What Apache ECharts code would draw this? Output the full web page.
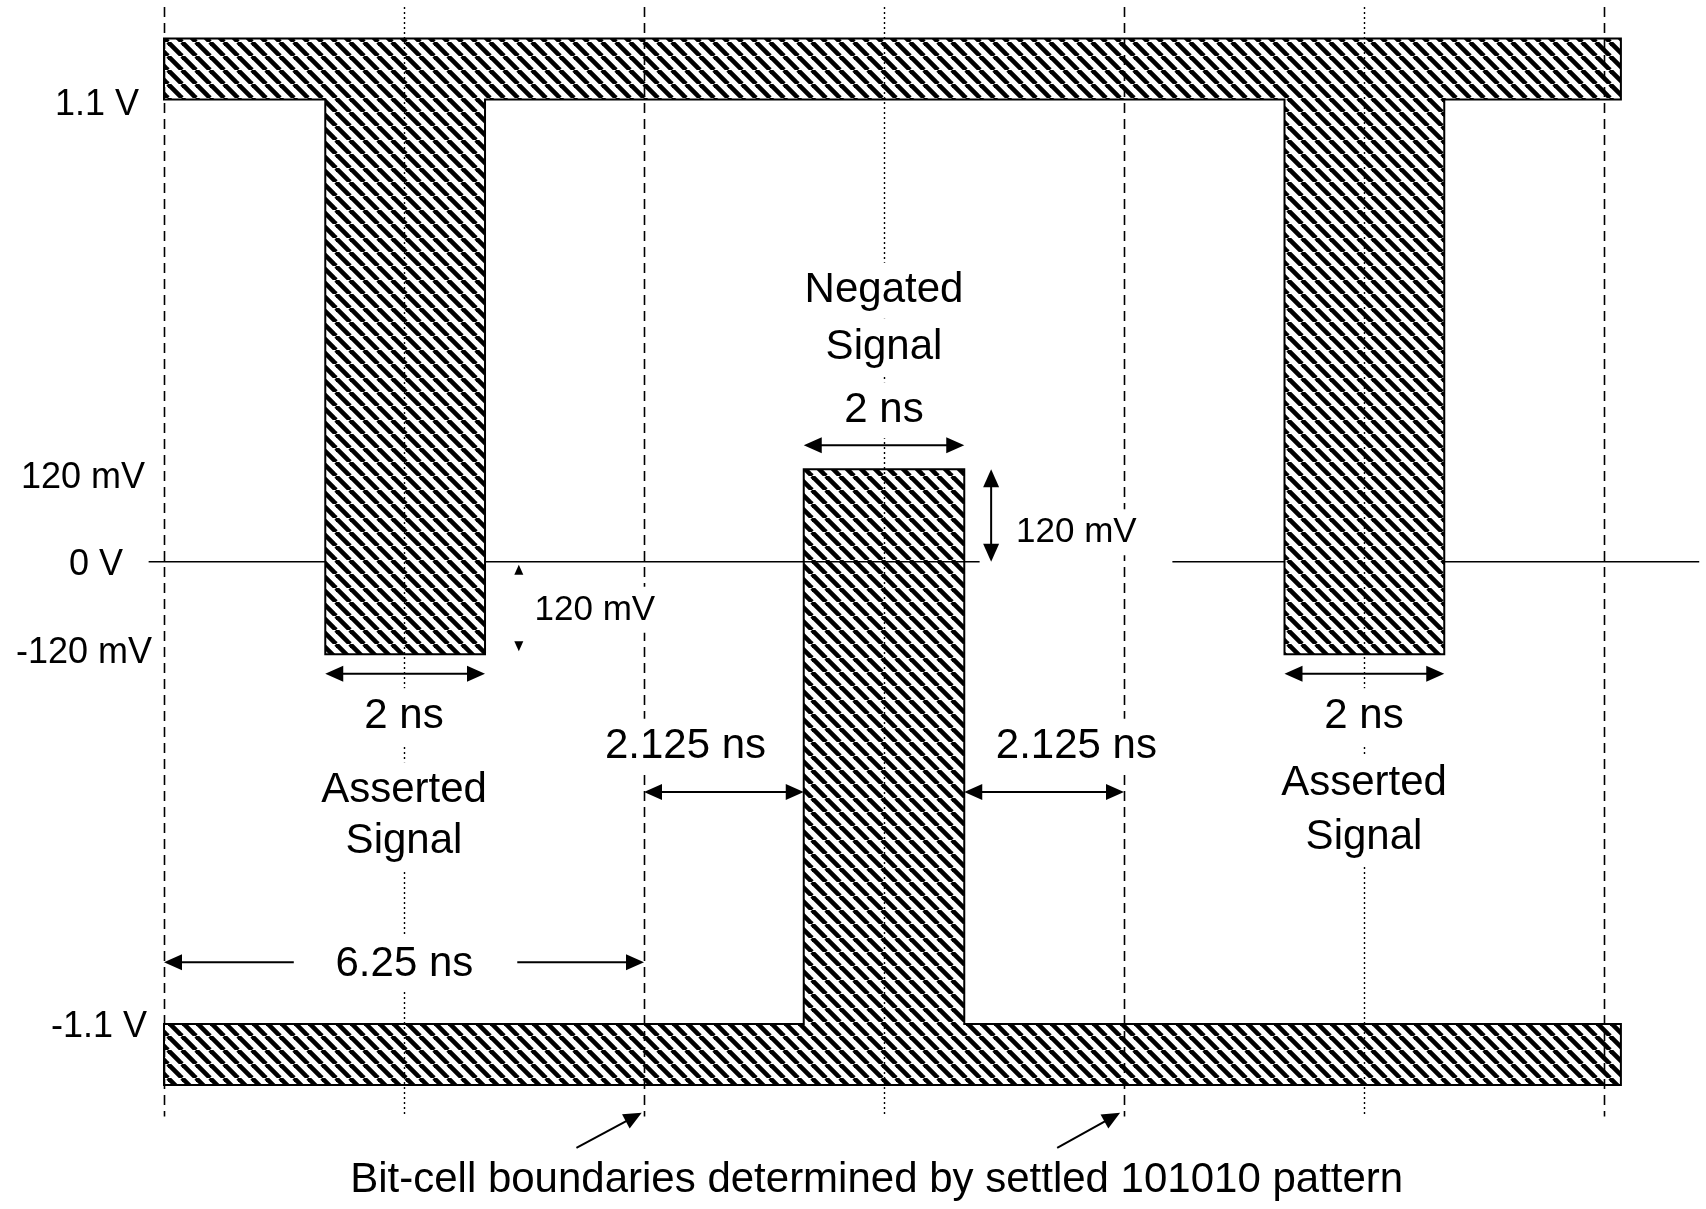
<!DOCTYPE html>
<html>
<head>
<meta charset="utf-8">
<script src="https://cdn.jsdelivr.net/npm/echarts@6/dist/echarts.min.js"></script>
<style>
  html, body { margin: 0; padding: 0; background: #fff; }
  #chart { width: 1706px; height: 1209px; }
</style>
</head>
<body>
<div id="chart"></div>
<script>
// y is a schematic level, not to scale: 1 unit = 120 mV, rails at +-5 units (+-1.1 V)
const yTickLevels = [5, 1, 0, -1, -5];
const yTickLabels = ['1.1 V', '120 mV', '0 V', '-120 mV', '-1.1 V'];

// time in ns
const cellBounds = [0, 6.25, 12.5, 18.75];      // dashed bit-cell boundaries
const cellCenters = [3.125, 9.375, 15.625];     // dotted cell centres
const gridSpan = [-6, 6];

const railSpan = [0, 18.97];
const railLevel = 5;
const railWidth = 0.66;
const pulseLevel = 1;
// pulse edges as drawn (nominally 2 ns wide)
const assertedPulses = [[2.1, 4.18], [14.59, 16.67]];
const negatedPulses = [[8.33, 10.42]];

const zeroSegments = [[-0.2, 10.62], [13.13, 19.99]];

// annotation text: [text, t, level]
const bigLabels = [
  ['Negated', 9.375, 2.93],
  ['Signal', 9.375, 2.32],
  ['2 ns', 9.375, 1.64],
  ['2 ns', 3.125, -1.67],
  ['Asserted', 3.125, -2.47],
  ['Signal', 3.125, -3.02],
  ['2 ns', 15.625, -1.67],
  ['Asserted', 15.625, -2.4],
  ['Signal', 15.625, -2.98],
  ['2.125 ns', 6.79, -2.0],
  ['2.125 ns', 11.88, -2.0],
  ['6.25 ns', 3.13, -4.35],
  ['Bit-cell boundaries determined by settled 101010 pattern', 9.28, -6.69]
];
const smallLabels = [
  ['120 mV', 11.88, 0.32],
  ['120 mV', 5.61, -0.52]
];

// arrows: [t1, y1, t2, y2, heads at both ends]
const arrows = [
  [assertedPulses[0][0], -1.21, assertedPulses[0][1], -1.21, 1],
  [assertedPulses[1][0], -1.21, assertedPulses[1][1], -1.21, 1],
  [negatedPulses[0][0], 1.26, negatedPulses[0][1], 1.26, 1],
  [10.77, pulseLevel, 10.77, 0, 1],
  [cellBounds[1], -2.49, negatedPulses[0][0], -2.49, 1],
  [negatedPulses[0][1], -2.49, cellBounds[2], -2.49, 1],
  [1.69, -4.33, cellBounds[0], -4.33, 0],
  [4.6, -4.33, cellBounds[1], -4.33, 0],
  [5.37, -6.34, 6.22, -5.96, 0],
  [11.63, -6.34, 12.45, -5.96, 0]
];
// tiny marker heads for the asserted swing: [t, level, direction]
const tickHeads = [[4.62, 0, 1], [4.62, -1, -1]];

const FONT = '"Liberation Sans", Arial, sans-serif';

function hatchPattern() {
  const p = 14;
  const c = document.createElement('canvas');
  c.width = p; c.height = p;
  const g = c.getContext('2d');
  g.fillStyle = '#fff';
  g.fillRect(0, 0, p, p);
  g.strokeStyle = '#000';
  g.lineWidth = 4.6;
  [-p, 0, p].forEach(o => {
    g.beginPath(); g.moveTo(o, 0); g.lineTo(o + p, p); g.stroke();
  });
  return { image: c, repeat: 'repeat' };
}
const hatch = hatchPattern();

function railOutline(sign, pulses) {
  const inner = sign * railLevel, outer = sign * (railLevel + railWidth), tip = -sign * pulseLevel;
  const pts = [[railSpan[0], outer], [railSpan[1], outer], [railSpan[1], inner]];
  pulses.slice().sort((a, b) => b[0] - a[0]).forEach(([a, b]) => {
    pts.push([b, inner], [b, tip], [a, tip], [a, inner]);
  });
  pts.push([railSpan[0], inner]);
  return pts;
}
const rails = [railOutline(1, assertedPulses), railOutline(-1, negatedPulses)];

function railSeries(idx, z) {
  return {
    type: 'custom', z: z, silent: true, data: [[idx]],
    renderItem: (params, api) => ({
      type: 'polygon',
      shape: { points: rails[idx].map(p => api.coord(p)) },
      style: { fill: hatch, stroke: '#000', lineWidth: 2 }
    })
  };
}

function arrowHead(tip, from, len, wid) {
  const dx = tip[0] - from[0], dy = tip[1] - from[1];
  const d = Math.hypot(dx, dy) || 1;
  const ux = dx / d, uy = dy / d;
  const bx = tip[0] - ux * len, by = tip[1] - uy * len;
  return {
    type: 'polygon',
    shape: { points: [tip, [bx - uy * wid / 2, by + ux * wid / 2], [bx + uy * wid / 2, by - ux * wid / 2]] },
    style: { fill: '#000' }
  };
}

const chart = echarts.init(document.getElementById('chart'));

const yRich = {};
const yPad = [[11, 13, 0, 0], [18, 7, 0, 0], [6, 29, 0, 0], [0, 0, 2, 0], [6, 5, 0, 0]];
yTickLabels.forEach((_, i) => {
  yRich['t' + i] = { fontFamily: FONT, fontSize: 36, color: '#000', padding: yPad[i] };
});

chart.setOption({
  backgroundColor: '#fff',
  animation: false,
  grid: { left: 164, right: 6, top: 7, height: 1204 },
  xAxis: { type: 'value', min: 0, max: 20, show: false },
  yAxis: {
    type: 'value', min: -7, max: 6, interval: 1,
    axisLine: { show: false }, axisTick: { show: false }, splitLine: { show: false },
    axisLabel: {
      margin: 12,
      formatter: v => {
        const i = yTickLevels.indexOf(v);
        return i < 0 ? '' : '{t' + i + '|' + yTickLabels[i] + '}';
      },
      rich: yRich
    }
  },
  series: [
    railSeries(1, 1),
    {
      type: 'custom', z: 2, silent: true, data: zeroSegments.map((_, i) => [i]),
      renderItem: (params, api) => {
        const s = zeroSegments[params.dataIndex];
        const a = api.coord([s[0], 0]), b = api.coord([s[1], 0]);
        return { type: 'line', shape: { x1: a[0], y1: a[1], x2: b[0], y2: b[1] }, style: { stroke: '#000', lineWidth: 1.6 } };
      }
    },
    railSeries(0, 3),
    {
      type: 'custom', z: 4, silent: true,
      data: cellBounds.map((t, i) => [i]).concat(cellCenters.map((t, i) => [cellBounds.length + i])),
      renderItem: (params, api) => {
        const i = params.dataIndex;
        const dashed = i < cellBounds.length;
        const t = dashed ? cellBounds[i] : cellCenters[i - cellBounds.length];
        const a = api.coord([t, gridSpan[1]]), b = api.coord([t, gridSpan[0]]);
        return {
          type: 'line',
          shape: { x1: Math.round(a[0]) + 0.5, y1: a[1], x2: Math.round(b[0]) + 0.5, y2: b[1] },
          style: { stroke: '#000', lineWidth: dashed ? 1.6 : 1.4, lineDash: dashed ? [10, 6] : [2, 3] }
        };
      }
    },
    {
      type: 'custom', z: 5, silent: true,
      data: bigLabels.map((_, i) => [i]).concat(smallLabels.map((_, i) => [bigLabels.length + i])),
      renderItem: (params, api) => {
        const i = params.dataIndex;
        const big = i < bigLabels.length;
        const l = big ? bigLabels[i] : smallLabels[i - bigLabels.length];
        const p = api.coord([l[1], l[2]]);
        return {
          type: 'text', x: p[0], y: p[1],
          style: {
            text: l[0], fontFamily: FONT, fontSize: big ? 42 : 35, fill: '#000',
            align: 'center', verticalAlign: 'middle', lineHeight: big ? 50 : 40,
            backgroundColor: '#fff', padding: [3, 10]
          }
        };
      }
    },
    {
      type: 'custom', z: 6, silent: true,
      data: arrows.map((_, i) => [i]),
      renderItem: (params, api) => {
        const r = arrows[params.dataIndex];
        const a = api.coord([r[0], r[1]]), b = api.coord([r[2], r[3]]);
        const len = 18, wid = 16;
        const d = Math.hypot(b[0] - a[0], b[1] - a[1]);
        const ux = (b[0] - a[0]) / d, uy = (b[1] - a[1]) / d;
        const s = r[4] ? [a[0] + ux * len * 0.8, a[1] + uy * len * 0.8] : a;
        const e = [b[0] - ux * len * 0.8, b[1] - uy * len * 0.8];
        const children = [
          { type: 'line', shape: { x1: s[0], y1: s[1], x2: e[0], y2: e[1] }, style: { stroke: '#000', lineWidth: 2 } },
          arrowHead(b, a, len, wid)
        ];
        if (r[4]) children.push(arrowHead(a, b, len, wid));
        return { type: 'group', children: children };
      }
    },
    {
      type: 'custom', z: 6, silent: true,
      data: tickHeads.map((_, i) => [i]),
      renderItem: (params, api) => {
        const h = tickHeads[params.dataIndex];
        const tip = api.coord([h[0], h[1]]);
        return arrowHead([tip[0], tip[1] + (h[2] > 0 ? 3 : -3)], [tip[0], tip[1] + h[2] * 20], 10, 9);
      }
    }
  ]
});
</script>
</body>
</html>
